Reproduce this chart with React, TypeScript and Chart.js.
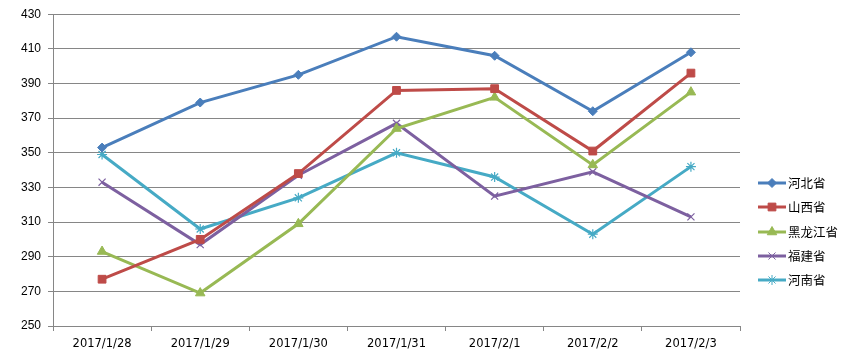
import React, { useEffect, useRef } from "react";
import { Chart, registerables } from "chart.js";
import { drawPoint } from "chart.js/helpers";

Chart.register(...registerables);

const categories = ["2017/1/28", "2017/1/29", "2017/1/30", "2017/1/31", "2017/2/1", "2017/2/2", "2017/2/3"];
const seriesNames = ["河北省", "山西省", "黑龙江省", "福建省", "河南省"];
const hebei = [353, 379, 395, 417, 406, 374, 408];
const shanxi = [277, 300, 338, 386, 387, 351, 396];
const heilongjiang = [293, 269, 309, 364, 382, 343, 385];
const fujian = [333, 297, 337, 367, 325, 339, 313];
const henan = [349, 306, 324, 350, 336, 303, 342];
const yTicks = { min: 250, max: 430, step: 20 };

const colors = ["#4A7EBB", "#BE4B48", "#98B954", "#7D60A0", "#46AAC5"];
const styles = ["rectRot", "rect", "triangle", "crossRot", "star"];
const radii = [4.5, 5.5, 5.5, 5, 5];

const legendPlugin = {
  id: "excelLegend",
  afterDraw(chart: any) {
    const ctx = chart.ctx;
    const x0 = 758;
    const ys = [183, 207, 232, 256, 280];
    chart.data.datasets.forEach((ds: any, i: number) => {
      const y = ys[i];
      ctx.save();
      ctx.strokeStyle = ds.borderColor;
      ctx.lineWidth = 3;
      ctx.beginPath();
      ctx.moveTo(x0, y);
      ctx.lineTo(x0 + 28, y);
      ctx.stroke();
      ctx.fillStyle = ds.pointBackgroundColor;
      ctx.strokeStyle = ds.pointBorderColor;
      ctx.lineWidth = 1;
      drawPoint(ctx, { pointStyle: ds.pointStyle, radius: ds.pointRadius, borderWidth: 1, rotation: 0 }, x0 + 14, y);
      ctx.fillStyle = "#000";
      ctx.font = '12.5px "Noto Sans CJK SC", sans-serif';
      ctx.textBaseline = "middle";
      ctx.textAlign = "left";
      ctx.fillText(ds.label, x0 + 30, y);
      ctx.restore();
    });
  },
};

export default function App() {
  const ref = useRef<HTMLCanvasElement>(null);
  useEffect(() => {
    const data = [hebei, shanxi, heilongjiang, fujian, henan];
    const chart = new Chart(ref.current!, {
      type: "line",
      data: {
        labels: categories,
        datasets: data.map((d, i) => ({
          label: seriesNames[i],
          data: d,
          borderColor: colors[i],
          backgroundColor: colors[i],
          pointBackgroundColor: colors[i],
          pointBorderColor: colors[i],
          pointBorderWidth: i >= 3 ? 1.2 : 1,
          borderWidth: 3,
          pointStyle: styles[i] as any,
          pointRadius: radii[i],
          tension: 0,
        })),
      },
      options: {
        animation: false,
        responsive: false,
        layout: { padding: { top: 13, right: 110, left: 0, bottom: 0 } },
        plugins: { legend: { display: false }, tooltip: { enabled: false } },
        scales: {
          x: {
            offset: true,
            grid: { offset: true, drawOnChartArea: false, drawTicks: true, tickLength: 5, color: "#868686" },
            border: { color: "#868686", width: 1 },
            ticks: { color: "#000", font: { family: "DejaVu Sans", size: 11.5 }, padding: 6, maxRotation: 0 },
            afterFit: (s: any) => { s.height = 31; },
          },
          y: {
            min: yTicks.min,
            max: yTicks.max,
            ticks: { stepSize: yTicks.step, color: "#000", font: { family: "Liberation Sans", size: 12 }, padding: 7 },
            grid: { color: "#868686", tickLength: 5, lineWidth: 1 },
            border: { color: "#868686", width: 1 },
            afterFit: (s: any) => { s.width = 53; },
          },
        },
      },
      plugins: [legendPlugin],
    });
    return () => chart.destroy();
  }, []);
  return (
    <div style={{ position: "fixed", left: 0, top: 0, width: 850, height: 357, background: "#fff" }}>
      <canvas ref={ref} width={850} height={357} style={{ width: 850, height: 357 }} />
    </div>
  );
}
